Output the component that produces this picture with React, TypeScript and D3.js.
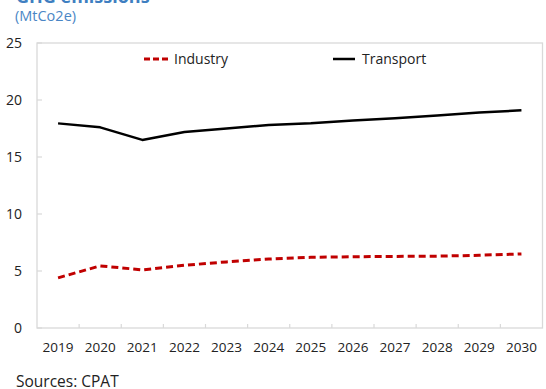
import React from "react";
import * as d3 from "d3";

const years = ["2019","2020","2021","2022","2023","2024","2025","2026","2027","2028","2029","2030"];
const transport = [17.95, 17.6, 16.5, 17.2, 17.5, 17.8, 17.95, 18.2, 18.4, 18.65, 18.9, 19.1];
const industry = [4.4, 5.45, 5.1, 5.5, 5.8, 6.05, 6.2, 6.25, 6.28, 6.3, 6.38, 6.5];
const yTicks = [0, 5, 10, 15, 20, 25];

const W = 546, H = 389;
const L = 37, R = 542.5, T = 43, B = 328;
const FONT = "'Open Sans', 'Noto Sans', sans-serif";

export default function App() {
  const x = d3.scaleBand<string>().domain(years).range([L, R]).padding(0);
  const y = d3.scaleLinear().domain([0, 25]).range([B, T]);
  const cx = (d: string) => (x(d) as number) + x.bandwidth() / 2;
  const line = d3.line<number>().x((_, i) => cx(years[i])).y((v) => y(v));
  const grid = "#d9d9d9";
  return (
    <svg width={W} height={H} style={{ position: "absolute", left: 0, top: 0, background: "#fff" }} fontFamily={FONT}>
      <text x={16} y={2.5} fontSize={18} fontWeight="bold" fill="#3f7fc1">GHG emissions</text>
      <text x={15} y={21} fontSize={14.5} fill="#4a86c5">(MtCo2e)</text>
      <rect x={L} y={T} width={R - L} height={B - T} fill="none" stroke={grid} strokeWidth={1.3} />
      {yTicks.map((t) => (
        <g key={t}>
          <line x1={L} x2={L + 5} y1={y(t)} y2={y(t)} stroke={grid} strokeWidth={1.2} />
          <text x={22} y={y(t)} dy="0.35em" textAnchor="end" fontSize={14} fill="#222">{t}</text>
        </g>
      ))}
      {years.map((yr, i) => (
        <g key={yr}>
          {i > 0 && <line x1={x(yr) as number} x2={x(yr) as number} y1={B} y2={B - 4} stroke={grid} strokeWidth={1.2} />}
          <text x={cx(yr)} y={352} textAnchor="middle" fontSize={13.5} fill="#222">{yr}</text>
        </g>
      ))}
      <path d={line(transport) || ""} fill="none" stroke="#000" strokeWidth={2.5} strokeLinejoin="round" />
      <path d={line(industry) || ""} fill="none" stroke="#c00000" strokeWidth={3} strokeDasharray="7,4" />
      <line x1={144} x2={168} y1={59} y2={59} stroke="#c00000" strokeWidth={3} strokeDasharray="6,3" />
      <text x={174} y={59} dy="0.35em" fontSize={14} fill="#222">Industry</text>
      <line x1={333} x2={355} y1={59} y2={59} stroke="#000" strokeWidth={2.5} />
      <text x={362} y={59} dy="0.35em" fontSize={14} fill="#222">Transport</text>
      <text x={16} y={387} fontSize={15.5} fill="#222">Sources: CPAT</text>
    </svg>
  );
}
